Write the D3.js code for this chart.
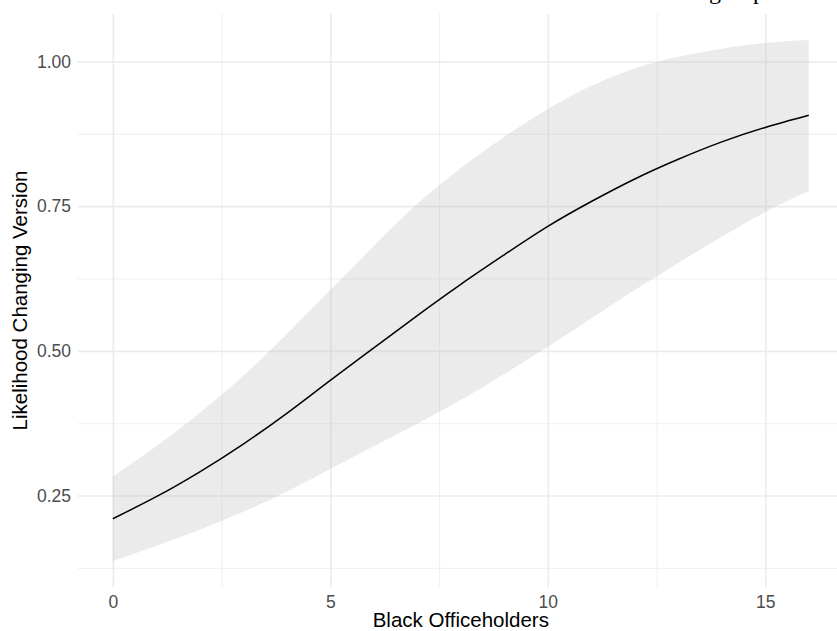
<!DOCTYPE html>
<html>
<head>
<meta charset="utf-8">
<script src="https://cdn.jsdelivr.net/npm/d3@7"></script>
<style>
  body { margin: 0; background: #fff; }
  svg { display: block; overflow: hidden; }
  text { font-family: "Liberation Sans", Arial, sans-serif; }
</style>
</head>
<body>
<div id="chart"></div>
<script>
// values
const officeholders = [0, 1, 2, 3, 4, 5, 6, 7, 8, 9, 10, 11, 12, 13, 14, 15, 16];
const likelihood = [0.210, 0.248, 0.291, 0.339, 0.392, 0.449, 0.505, 0.561, 0.615, 0.666, 0.715, 0.758, 0.797, 0.831, 0.861, 0.886, 0.907];
const upper = [0.283, 0.335, 0.393, 0.457, 0.529, 0.605, 0.681, 0.754, 0.816, 0.870, 0.918, 0.958, 0.988, 1.008, 1.022, 1.032, 1.037];
const lower = [0.137, 0.163, 0.191, 0.222, 0.257, 0.296, 0.335, 0.374, 0.415, 0.460, 0.507, 0.556, 0.605, 0.652, 0.697, 0.740, 0.776];
const xTicks = [0, 5, 10, 15];
const xMinor = [2.5, 7.5, 12.5];
const yTicks = [0.25, 0.50, 0.75, 1.00];
const yMinor = [0.125, 0.375, 0.625, 0.875];

const data = officeholders.map((d, i) => ({x: d, y: likelihood[i], lo: lower[i], hi: upper[i]}));

const width = 837, height = 631;
const pLeft = 78, pRight = 843.6, pTop = 14, pBottom = 587;

const svg = d3.select("#chart")
    .append("svg")
    .attr("width", width)
    .attr("height", height);

// ggplot-style 5% expansion
const xr = d3.extent(officeholders);
const yr = [d3.min(lower), d3.max(upper)];
const xPad = (xr[1] - xr[0]) * 0.05, yPad = (yr[1] - yr[0]) * 0.05;
const x = d3.scaleLinear().domain([xr[0] - xPad, xr[1] + xPad]).range([pLeft, pRight]);
const y = d3.scaleLinear().domain([yr[0] - yPad, yr[1] + yPad]).range([pBottom, pTop]);

// grid
function grid(g, w) {
    g.select(".domain").remove();
    g.selectAll("text").remove();
    g.selectAll("line").attr("stroke", "#ebebeb").attr("stroke-width", w);
}
svg.append("g")
    .attr("transform", `translate(0,${pBottom})`)
    .call(d3.axisBottom(x).tickValues(xMinor).tickSize(-(pBottom - pTop)))
    .call(grid, 0.8);
svg.append("g")
    .attr("transform", `translate(${pLeft},0)`)
    .call(d3.axisLeft(y).tickValues(yMinor).tickSize(-(pRight - pLeft)))
    .call(grid, 0.8);
svg.append("g")
    .attr("transform", `translate(0,${pBottom})`)
    .call(d3.axisBottom(x).tickValues(xTicks).tickSize(-(pBottom - pTop)))
    .call(grid, 1.6);
svg.append("g")
    .attr("transform", `translate(${pLeft},0)`)
    .call(d3.axisLeft(y).tickValues(yTicks).tickSize(-(pRight - pLeft)))
    .call(grid, 1.6);

// ribbon
svg.append("path")
    .datum(data)
    .attr("fill", "#bebebe")
    .attr("fill-opacity", 0.3)
    .attr("d", d3.area()
        .curve(d3.curveNatural)
        .x(d => x(d.x))
        .y0(d => y(d.lo))
        .y1(d => y(d.hi))
    );

// fitted line
svg.append("path")
    .datum(data)
    .attr("fill", "none")
    .attr("stroke", "#000")
    .attr("stroke-width", 1.5)
    .attr("d", d3.line()
        .curve(d3.curveNatural)
        .x(d => x(d.x))
        .y(d => y(d.y))
    );

// axis labels
function labels(g) {
    g.select(".domain").remove();
    g.selectAll("line").remove();
    g.selectAll("text").attr("fill", "#4d4d4d").style("font-size", "17.5px");
}
svg.append("g")
    .attr("transform", `translate(0,${pBottom})`)
    .call(d3.axisBottom(x).tickValues(xTicks).tickSize(0).tickPadding(9))
    .call(labels);
svg.append("g")
    .attr("transform", `translate(${pLeft},0)`)
    .call(d3.axisLeft(y).tickValues(yTicks).tickFormat(d3.format(".2f")).tickSize(0).tickPadding(7))
    .call(labels);

svg.append("text")
    .attr("x", (pLeft + pRight) / 2)
    .attr("y", 627)
    .attr("text-anchor", "middle")
    .style("font-size", "20.5px")
    .attr("fill", "#000")
    .text("Black Officeholders");

svg.append("text")
    .attr("transform", `translate(27,${(pTop + pBottom) / 2}) rotate(-90)`)
    .attr("text-anchor", "middle")
    .style("font-size", "20.5px")
    .attr("fill", "#000")
    .text("Likelihood Changing Version");

// title, mostly above the visible area
const title = svg.append("text")
    .attr("y", -1)
    .style("font-family", "'Liberation Serif', 'DejaVu Serif', serif")
    .style("font-size", "24px")
    .text("Voting as process");
const gi = title.text().indexOf("g");
title.attr("x", 709 - title.node().getStartPositionOfChar(gi).x);
</script>
</body>
</html>
